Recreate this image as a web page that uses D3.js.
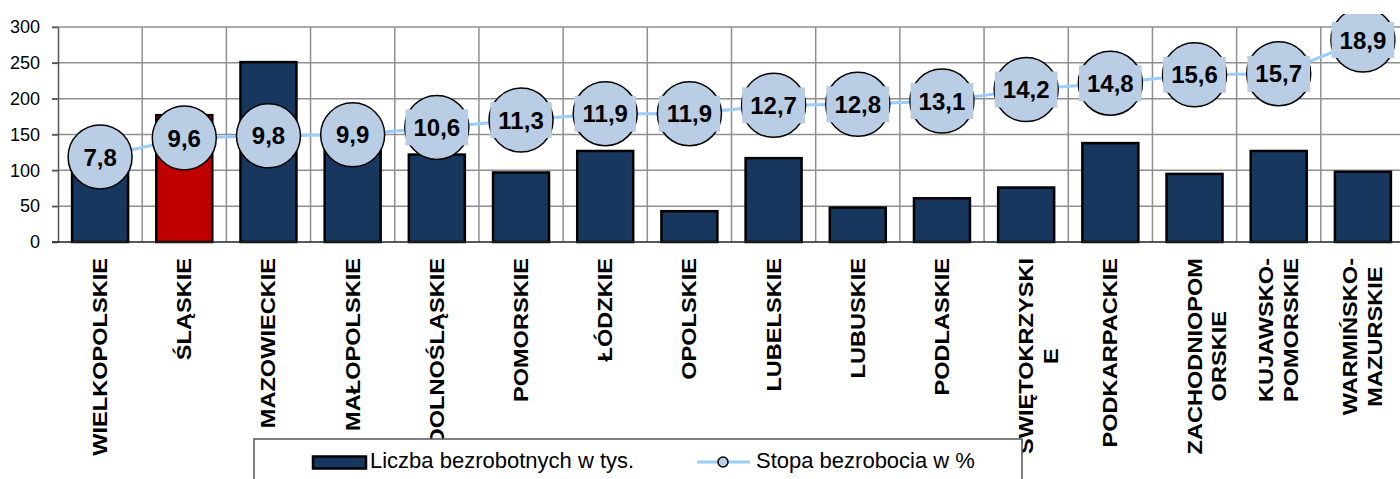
<!DOCTYPE html>
<html>
<head>
<meta charset="utf-8">
<script src="https://cdn.jsdelivr.net/npm/d3@7"></script>
<style>
  html, body { margin: 0; padding: 0; background: #fff; }
  svg { display: block; font-family: "Liberation Sans", Arial, sans-serif; }
</style>
</head>
<body>
<svg id="chart" width="1400" height="479"></svg>
<script>
// ---- data ----
const categories = ["WIELKOPOLSKIE","ŚLĄSKIE","MAZOWIECKIE","MAŁOPOLSKIE","DOLNOŚLĄSKIE","POMORSKIE","ŁÓDZKIE","OPOLSKIE","LUBELSKIE","LUBUSKIE","PODLASKIE","ŚWIĘTOKRZYSKIE","PODKARPACKIE","ZACHODNIOPOMORSKIE","KUJAWSKO-POMORSKIE","WARMIŃSKO-MAZURSKIE"];
const categoryLabelLines = [["WIELKOPOLSKIE"],["ŚLĄSKIE"],["MAZOWIECKIE"],["MAŁOPOLSKIE"],["DOLNOŚLĄSKIE"],["POMORSKIE"],["ŁÓDZKIE"],["OPOLSKIE"],["LUBELSKIE"],["LUBUSKIE"],["PODLASKIE"],["ŚWIĘTOKRZYSKI","E"],["PODKARPACKIE"],["ZACHODNIOPOM","ORSKIE"],["KUJAWSKO-","POMORSKIE"],["WARMIŃSKO-","MAZURSKIE"]];
const unemployed = [110,177,251,135,122,97,127,43,117,48,61,76,138,95,127,98];   // Liczba bezrobotnych w tys.
const rate = [7.8,9.6,9.8,9.9,10.6,11.3,11.9,11.9,12.7,12.8,13.1,14.2,14.8,15.6,15.7,18.9]; // Stopa bezrobocia w %
const highlighted = ["ŚLĄSKIE"];
const yTicks = [0,50,100,150,200,250,300];
const seriesNames = ["Liczba bezrobotnych w tys.","Stopa bezrobocia w %"];

// ---- layout ----
const svg = d3.select("#chart");
const plot = {left: 58, right: 1405, top: 27, bottom: 242};
const FONT = '"Liberation Sans", Arial, sans-serif';
const barColor = "#17375e", hiColor = "#c00000", dotFill = "#b9cde5", lineColor = "#99ccff", gridColor = "#8f8f8f";

const x = d3.scaleBand().domain(categories).range([plot.left, plot.right]).padding(0);
const y = d3.scaleLinear().domain([0,300]).range([plot.bottom, plot.top]);
const y2 = d3.scaleLinear().domain([0,20]).range([239, 28.5]);
const barW = x.bandwidth() * 0.665;

// clip for the plot series
svg.append("defs").append("clipPath").attr("id","clipTop")
  .append("rect").attr("x",0).attr("y",14).attr("width",1400).attr("height",465);

// horizontal gridlines
svg.append("g").selectAll("line").data(yTicks.filter(d => d > 0)).join("line")
  .attr("x1", plot.left - 6).attr("x2", plot.right)
  .attr("y1", d => y(d)).attr("y2", d => y(d))
  .attr("stroke", gridColor).attr("stroke-width", 1.5);

// vertical gridlines (category boundaries)
svg.append("g").selectAll("line").data(categories.slice(1)).join("line")
  .attr("x1", d => x(d)).attr("x2", d => x(d))
  .attr("y1", plot.top).attr("y2", plot.bottom)
  .attr("stroke", gridColor).attr("stroke-width", 1.5);

// left axis
const yAxis = d3.axisLeft(y).tickValues(yTicks).tickSize(6).tickPadding(12).tickSizeOuter(0);
const ga = svg.append("g").attr("transform", `translate(${plot.left},0)`).call(yAxis);
ga.select(".domain").attr("stroke", "#555").attr("stroke-width", 1.5);
ga.selectAll(".tick line").attr("stroke", "#555").attr("stroke-width", 1.5);
ga.selectAll(".tick text").attr("font-size", 18).attr("font-family", FONT).attr("fill", "#000");

// bars
svg.append("g").selectAll("rect").data(categories).join("rect")
  .attr("x", d => x(d) + (x.bandwidth() - barW) / 2)
  .attr("width", barW)
  .attr("y", (d,i) => y(unemployed[i]))
  .attr("height", (d,i) => y(0) - y(unemployed[i]))
  .attr("fill", d => highlighted.includes(d) ? hiColor : barColor)
  .attr("stroke", "#000").attr("stroke-width", 2.5);

// x axis baseline
svg.append("line").attr("x1", plot.left - 6).attr("x2", plot.right)
  .attr("y1", plot.bottom).attr("y2", plot.bottom)
  .attr("stroke", "#222").attr("stroke-width", 1.5);

// category labels (rotated)
const labelTop = 258, labelFs = 19.5, stretch = 1.21, lineGap = 25;
categories.forEach((c, i) => {
  const lines = categoryLabelLines[i];
  const cx = x(c) + x.bandwidth() / 2;
  const g = svg.append("g").attr("transform", `translate(${cx},${labelTop}) rotate(-90) scale(${stretch},1)`);
  const texts = lines.map(t => g.append("text").text(t)
      .attr("font-family", FONT).attr("font-weight", "bold").attr("font-size", labelFs)
      .attr("text-anchor", "middle").attr("fill", "#000"));
  const maxLen = d3.max(texts, t => t.node().getComputedTextLength());
  const symmetric = lines.length > 1 && lines[0].endsWith("-");
  texts.forEach((t, k) => {
    let off;
    if (lines.length === 1) off = 0;
    else if (symmetric) off = (k - (lines.length - 1) / 2) * lineGap;
    else off = k * lineGap;
    t.attr("x", -maxLen / 2).attr("y", off + 0.358 * labelFs);
  });
});

// line series
const series = svg.append("g").attr("clip-path", "url(#clipTop)");
const line = d3.line().x((d,i) => x(categories[i]) + x.bandwidth()/2).y(d => y2(d));
series.append("path").datum(rate).attr("d", line)
  .attr("fill", "none").attr("stroke", lineColor).attr("stroke-width", 3);

const pts = series.selectAll("g.pt").data(rate).join("g").attr("class","pt")
  .attr("transform", (d,i) => `translate(${x(categories[i]) + x.bandwidth()/2},${y2(d)})`);
pts.append("circle").attr("r", 32).attr("fill", dotFill).attr("stroke", "#000").attr("stroke-width", 1.5);
pts.each(function(d) {
  const g = d3.select(this);
  const label = d.toFixed(1).replace(".", ",");
  const rect = g.append("rect").attr("fill", dotFill);
  const t = g.append("text").text(label)
    .attr("font-family", FONT).attr("font-weight", "bold").attr("font-size", 24)
    .attr("text-anchor", "middle").attr("y", 8.6).attr("fill", "#000");
  const w = t.node().getComputedTextLength() + 16;
  rect.attr("x", -w/2).attr("y", -18).attr("width", w).attr("height", 36);
});

// legend
const lg = svg.append("g");
lg.append("rect").attr("x", 254).attr("y", 439).attr("width", 768).attr("height", 60)
  .attr("fill", "#fff").attr("stroke", "#555").attr("stroke-width", 1.5);
lg.append("rect").attr("x", 313).attr("y", 456.5).attr("width", 53).attr("height", 12)
  .attr("fill", barColor).attr("stroke", "#000").attr("stroke-width", 2.5);
lg.append("text").attr("x", 370).attr("y", 468).text(seriesNames[0])
  .attr("font-family", FONT).attr("font-size", 22).attr("fill", "#000");
lg.append("line").attr("x1", 697).attr("x2", 750).attr("y1", 462).attr("y2", 462)
  .attr("stroke", lineColor).attr("stroke-width", 3);
lg.append("circle").attr("cx", 723).attr("cy", 462).attr("r", 5)
  .attr("fill", dotFill).attr("stroke", "#000").attr("stroke-width", 1.5);
lg.append("text").attr("x", 756).attr("y", 468).text(seriesNames[1])
  .attr("font-family", FONT).attr("font-size", 22).attr("fill", "#000");
</script>
</body>
</html>
